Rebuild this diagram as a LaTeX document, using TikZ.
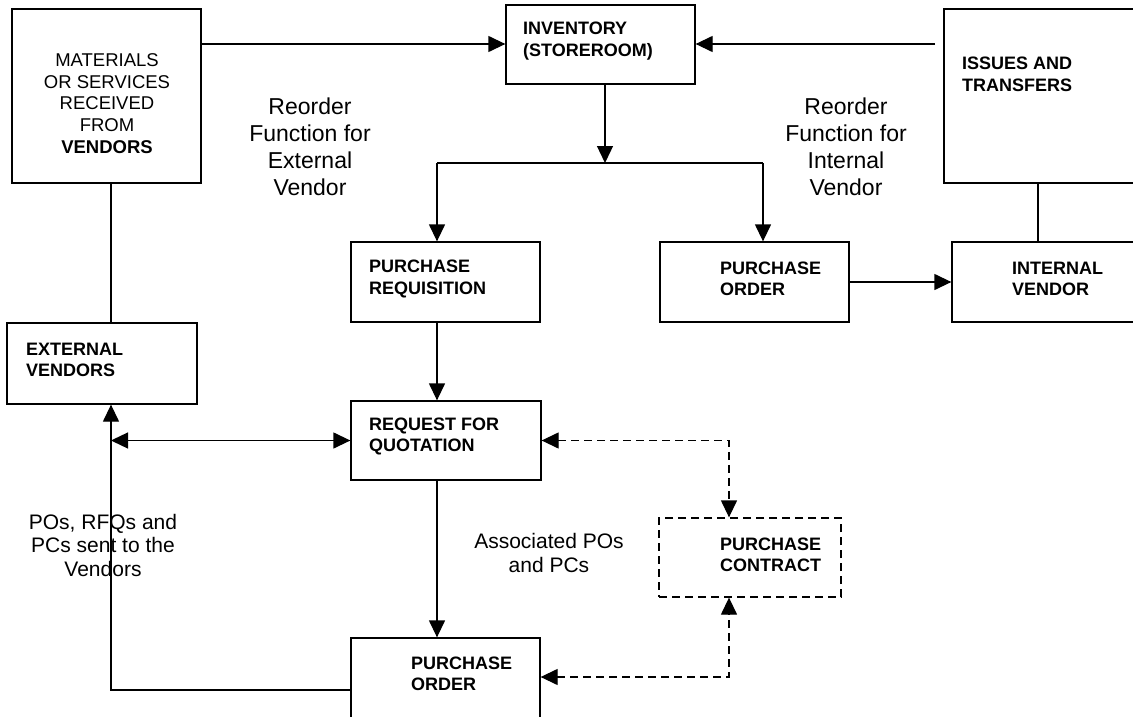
\documentclass[tikz,border=0pt]{standalone}
\usepackage{fontspec}
\setmainfont{Liberation Sans}
\usetikzlibrary{arrows.meta,calc}

\begin{document}
\begin{tikzpicture}[x=1pt,y=-1pt,
  box/.style={draw, line width=1.3pt, inner sep=0pt},
  dbox/.style={box, dash pattern=on 8pt off 5pt},
  boxtext/.style={inner sep=0pt, align=left, anchor=west,
    font=\fontsize{18}{21.5}\selectfont\bfseries},
  bignote/.style={inner sep=0pt, align=center,
    font=\fontsize{23}{27}\selectfont},
  note/.style={inner sep=0pt, align=center,
    font=\fontsize{21}{23.5}\selectfont},
  conn/.style={line width=1.3pt},
  tip/.tip={Triangle[length=17pt,width=16pt]},
  arr/.style={conn, -tip},
  darr/.style={conn, tip-tip}]
\clip (0,0) rectangle (1133,717);
\fill[white] (0,0) rectangle (1133,717);

% boxes
\node[box, minimum width=189pt, minimum height=174pt] (mat) at (106.5,96) {};
\node[box, minimum width=189pt, minimum height=79pt] (inv) at (600.5,44.5) {};
\node[box, minimum width=200pt, minimum height=174pt] (iss) at (1044,96) {};
\node[box, minimum width=189pt, minimum height=80pt] (pr) at (445.5,282) {};
\node[box, minimum width=189pt, minimum height=80pt] (po1) at (754.5,282) {};
\node[box, minimum width=193pt, minimum height=80pt] (iv) at (1048.5,282) {};
\node[box, minimum width=190pt, minimum height=81pt] (ext) at (102,363.5) {};
\node[box, minimum width=190pt, minimum height=79pt] (rfq) at (446,440.5) {};
\node[dbox, minimum width=182pt, minimum height=79pt] (pc) at (750,557.5) {};
\node[box, minimum width=189pt, minimum height=82pt] (po2) at (445.5,679) {};

% box texts
\node[inner sep=0pt, align=center, font=\fontsize{18.5}{21.7}\selectfont] (tmat) at (107,103.5)
  {MATERIALS\\OR SERVICES\\RECEIVED\\FROM\\\textbf{VENDORS}};
\node[boxtext] (tinv) at (523,41) {INVENTORY\\(STOREROOM)};
\node[boxtext] (tiss) at (962,74.5) {ISSUES AND\\TRANSFERS};
\node[boxtext] (tpr) at (369,279) {PURCHASE\\REQUISITION};
\node[boxtext] (tpo1) at (720,279) {PURCHASE\\ORDER};
\node[boxtext] (tiv) at (1012,279) {INTERNAL\\VENDOR};
\node[boxtext] (text) at (26,360) {EXTERNAL\\VENDORS};
\node[boxtext] (trfq) at (369,436.5) {REQUEST FOR\\QUOTATION};
\node[boxtext] (tpc) at (720,555) {PURCHASE\\CONTRACT};
\node[boxtext] (tpo2) at (411,674) {PURCHASE\\ORDER};

% free-standing labels
\node[bignote] (rext) at (310,147) {Reorder\\Function for\\External\\Vendor};
\node[bignote] (rint) at (846,147) {Reorder\\Function for\\Internal\\Vendor};
\node[note] (assoc) at (549,553) {Associated POs\\and PCs};
\node[note] (sent) at (103,545) {POs, RFQs and\\PCs sent to the\\Vendors};

% junction points
\coordinate (top) at (0,44);
\coordinate (issend) at (935,44);
\coordinate (j) at (605,163);
\coordinate (jl) at (437,163);
\coordinate (jr) at (763,163);
\coordinate (lx) at (111,0);
\coordinate (ix) at (1038,0);
\coordinate (px) at (729,0);
\coordinate (bot) at (0,690);
\coordinate (dlo) at (0,677);

% receiving and issues flows into inventory
\draw[arr] (mat.east |- top) -- (inv.west |- top);
\draw[arr] (issend) -- (inv.east |- top);

% reorder split
\draw[arr] (inv.south -| j) -- (j);
\draw[conn] (jl) -- (jr);
\draw[arr] (jl) -- (pr.north -| jl);
\draw[arr] (jr) -- (po1.north -| jr);
\draw[arr] (po1.east) -- (iv.west);
\draw[conn] (iss.south -| ix) -- (iv.north -| ix);

% external vendor side
\draw[conn] (mat.south -| lx) -- (ext.north -| lx);
\draw[arr] (pr.south -| jl) -- (rfq.north -| jl);
\draw[darr] (lx |- rfq.west) -- (rfq.west);
\draw[arr] (rfq.south -| jl) -- (po2.north -| jl);
\draw[arr] (po2.west |- bot) -- (lx |- bot) -- (ext.south -| lx);

% purchase contract links
\draw[darr, dash pattern=on 8pt off 5pt] (rfq.east) -- (px |- rfq.east) -- (pc.north -| px);
\draw[darr, dash pattern=on 8pt off 5pt] (po2.east |- dlo) -- (px |- dlo) -- (pc.south -| px);
\end{tikzpicture}
\end{document}
